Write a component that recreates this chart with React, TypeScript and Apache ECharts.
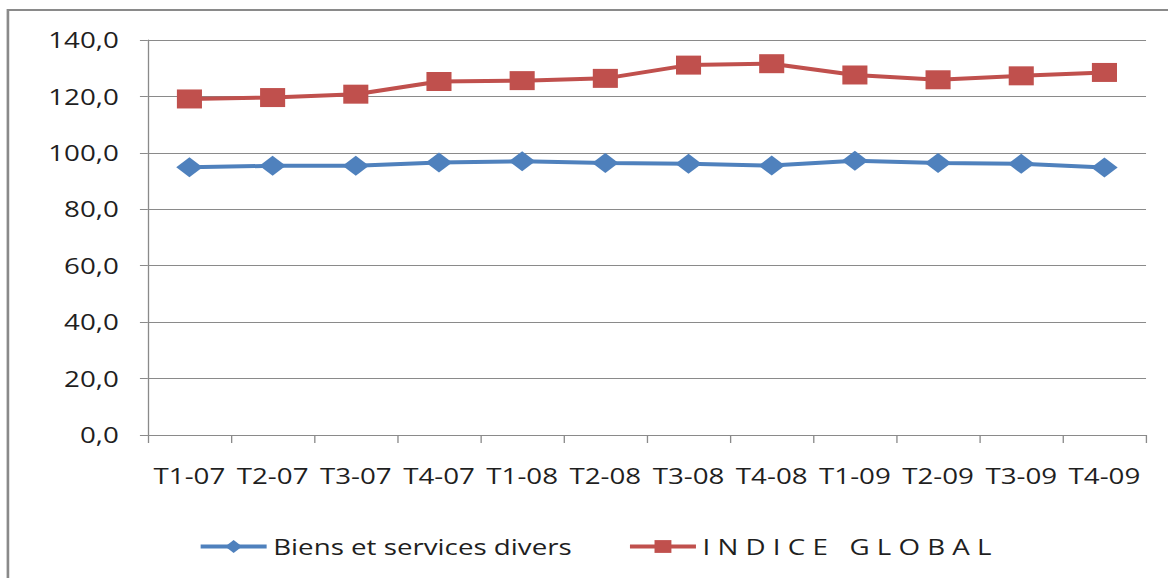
import React, { useEffect, useRef } from "react";
import * as echarts from "echarts";

const categories = ["T1-07", "T2-07", "T3-07", "T4-07", "T1-08", "T2-08", "T3-08", "T4-08", "T1-09", "T2-09", "T3-09", "T4-09"];
const biensValues = [94.9, 95.4, 95.4, 96.6, 97.0, 96.4, 96.1, 95.5, 97.2, 96.4, 96.1, 94.8];
const globalValues = [119.1, 119.6, 120.8, 125.3, 125.6, 126.4, 131.1, 131.6, 127.6, 125.9, 127.3, 128.5];
const seriesNames = ["Biens et services divers", "I N D I C E   G L O B A L"];

const STRETCH = 1.32;
const OUTER_W = 1168;
const OUTER_H = 578;
const INNER_W = OUTER_W / STRETCH;

export default function App() {
  const ref = useRef<HTMLDivElement>(null);

  useEffect(() => {
    if (!ref.current) return;
    const chart = echarts.init(ref.current, null, { renderer: "svg", width: INNER_W, height: OUTER_H });
    const font = "'Open Sans', sans-serif";
    chart.setOption({
      animation: false,
      backgroundColor: "#ffffff",
      textStyle: { fontFamily: font },
      graphic: [
        {
          type: "rect",
          shape: { x: 6, y: 10, width: INNER_W + 50, height: OUTER_H + 50 },
          style: { fill: "none", stroke: "#8a8a8a", lineWidth: 2 },
          silent: true,
        },
      ],
      grid: { left: 112, right: INNER_W - 868.2, top: 40, bottom: 143, containLabel: false },
      legend: {
        data: seriesNames,
        left: 145,
        top: 531,
        itemWidth: 50,
        itemHeight: 16,
        itemGap: 42,
        lineStyle: { width: 4 },
        textStyle: { fontFamily: font, fontSize: 21, color: "#1f1f1f" },
      },
      xAxis: {
        type: "category",
        data: categories,
        boundaryGap: true,
        axisLine: { lineStyle: { color: "#8a8a8a", width: 1 } },
        axisTick: { show: true, interval: 0, length: 8, lineStyle: { color: "#8a8a8a" } },
        axisLabel: { interval: 0, margin: 30, fontFamily: font, fontSize: 21, color: "#1f1f1f" },
        splitLine: { show: false },
      },
      yAxis: {
        type: "value",
        min: 0,
        max: 140,
        interval: 20,
        axisLine: { show: true, lineStyle: { color: "#8a8a8a", width: 1 } },
        axisTick: { show: true, length: 6, lineStyle: { color: "#8a8a8a" } },
        axisLabel: {
          margin: 22,
          fontFamily: font,
          fontSize: 21,
          color: "#1f1f1f",
          formatter: (v: number) => v.toFixed(1).replace(".", ","),
        },
        splitLine: { show: true, lineStyle: { color: "#8a8a8a", width: 1 } },
      },
      series: [
        {
          name: seriesNames[0],
          type: "line",
          data: biensValues,
          symbol: "diamond",
          symbolSize: 20,
          lineStyle: { color: "#4F81BD", width: 4 },
          itemStyle: { color: "#4F81BD" },
        },
        {
          name: seriesNames[1],
          type: "line",
          data: globalValues,
          symbol: "rect",
          symbolSize: 19,
          lineStyle: { color: "#C0504D", width: 4 },
          itemStyle: { color: "#C0504D" },
        },
      ],
    });
    return () => chart.dispose();
  }, []);

  return (
    <div style={{ position: "absolute", left: 0, top: 0, width: OUTER_W, height: OUTER_H, overflow: "hidden", background: "#fff" }}>
      <div
        ref={ref}
        style={{ width: INNER_W, height: OUTER_H, transform: `scaleX(${STRETCH})`, transformOrigin: "0 0" }}
      />
    </div>
  );
}
